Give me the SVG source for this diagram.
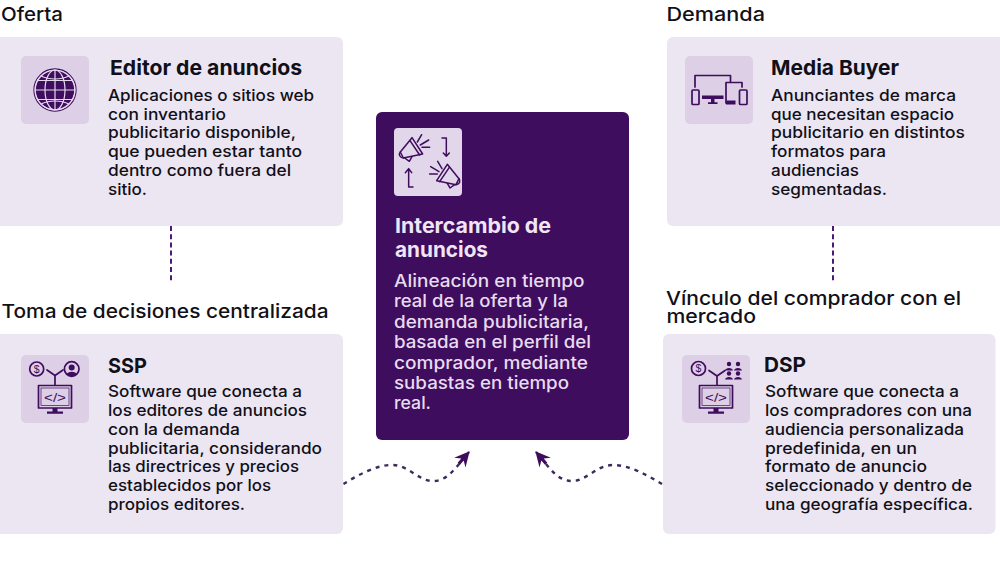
<svg xmlns="http://www.w3.org/2000/svg" width="1000" height="563" viewBox="0 0 1000 563">
<style>
text{font-family:"Inter","Noto Sans","Liberation Sans",sans-serif;fill:#111018}
.h{font-size:19px;font-weight:500}
.t{font-size:20.500px;font-weight:700}
.b{font-size:16px;font-weight:500}
.tc{font-size:20.500px;font-weight:700;fill:#efe6f5}
.bc{font-size:17px;font-weight:500;fill:#e8dcf0}
.card{fill:#ece6f3}
.ib{fill:#ddd0e6}
.ln{fill:none;stroke:#3f0d5e;stroke-width:1.700;stroke-linecap:round;stroke-linejoin:round}
.th{fill:none;stroke:#3f0d5e;stroke-width:.7}
.df{fill:#3f0d5e}
.code{font-family:"Liberation Sans",sans-serif;font-size:13px;fill:#3f0d5e}
.dollar{font-family:"Liberation Sans",sans-serif;font-size:10.500px;fill:#3f0d5e;text-anchor:middle}
.dv{fill:none;stroke:#4a1a78;stroke-width:2;stroke-dasharray:5 3.200}
.dc{fill:none;stroke:#3b2a5c;stroke-width:2.400;stroke-dasharray:4 5}
</style>
<defs>
<marker id="head" viewBox="-16 -9 18 18" markerWidth="18" markerHeight="18" markerUnits="userSpaceOnUse" refX="0" refY="0" orient="auto">
<path d="M1 0L-14 -7.500L-10 -1.600L-15.500 -1.600L-15.500 1.600L-10 1.600L-14 7.500Z" fill="#3f0d5e"/>
</marker>
<g id="mega" fill="none" stroke="#3f0d5e" stroke-width="4.500" stroke-linecap="round" stroke-linejoin="round">
<path d="M37 90L72 47L104 96L46 108Z"/>
<path d="M66 56L95 99"/>
<path d="M37 90C31 97 35 107 46 108"/>
<path d="M50 108L64 118L72 104"/>
<path d="M88 60L101 38M97 69L122 54M102 76L125 76"/>
</g>
</defs>

<g id="connectors">
<path class="dv" d="M171 226V282"/>
<path class="dv" d="M833 226V282"/>
<path class="dc" d="M343.500 484C358 475 376 465 392 465C409 465 418 481 433 481C448 481 456 467 469 452" marker-end="url(#head)"/>
<path class="dc" d="M662 484C647 475 629 465 613 465C596 465 587 481 572 481C557 481 549 467 536 452" marker-end="url(#head)"/>
</g>

<g id="oferta">
<text class="h" x="1" y="21" textLength="62" lengthAdjust="spacingAndGlyphs">Oferta</text>
</g>
<g id="editor-de-anuncios">
<rect class="card" x="-6" y="37" width="349" height="189" rx="6"/>
<rect class="ib" x="21" y="56" width="68" height="68" rx="5"/>
<circle cx="55" cy="90" r="21" fill="none" stroke="#3f0d5e" stroke-width="1.300"/>
<circle cx="55" cy="90" r="19.200" fill="#3f0d5e"/>
<g fill="none" stroke="#e5d9ee" stroke-width="1.200">
<circle cx="55" cy="90" r="20"/>
<ellipse cx="55" cy="90" rx="10" ry="20"/>
<path d="M55 70V110M35 90H75M37.500 80.500H72.500M37.500 99.500H72.500"/>
<path d="M41 76C49 80 61 80 69 76M41 104C49 100 61 100 69 104"/>
</g>
<text class="t" x="110" y="75" textLength="192" lengthAdjust="spacingAndGlyphs">Editor de anuncios</text>
<text class="b" x="108" y="100.700" textLength="206" lengthAdjust="spacingAndGlyphs">Aplicaciones o sitios web</text>
<text class="b" x="108" y="119.500" textLength="118" lengthAdjust="spacingAndGlyphs">con inventario</text>
<text class="b" x="108" y="138.200" textLength="188" lengthAdjust="spacingAndGlyphs">publicitario disponible,</text>
<text class="b" x="108" y="157" textLength="194" lengthAdjust="spacingAndGlyphs">que pueden estar tanto</text>
<text class="b" x="108" y="175.800" textLength="183" lengthAdjust="spacingAndGlyphs">dentro como fuera del</text>
<text class="b" x="108" y="194.500" textLength="39" lengthAdjust="spacingAndGlyphs">sitio.</text>
</g>

<g id="toma-de-decisiones">
<text class="h" x="1.500" y="318" textLength="327" lengthAdjust="spacingAndGlyphs">Toma de decisiones centralizada</text>
</g>
<g id="ssp">
<rect class="card" x="-6" y="334" width="349" height="200" rx="6"/>
<rect class="ib" x="21" y="355" width="68" height="68" rx="5"/>
<circle class="ln" cx="36.700" cy="369" r="7"/>
<text class="dollar" x="36.700" y="372.800">$</text>
<circle class="ln" cx="71.700" cy="369" r="7.300"/>
<circle class="df" cx="71.700" cy="367.500" r="3"/>
<path class="df" d="M66.500 374.500C67.500 370.800 76 370.800 77 374.500C74 376.500 69.500 376.500 66.500 374.500Z"/>
<path class="ln" d="M47 370L55 375.500L63 370M55 375.500V385"/>
<rect class="ln" x="38.500" y="385.500" width="33" height="22.500"/>
<rect class="th" x="41" y="388" width="28" height="17.500"/>
<text class="code" x="44" y="401.500" textLength="22" lengthAdjust="spacingAndGlyphs">&lt;/&gt;</text>
<path class="df" d="M52.500 408h5v4h-5zM47 411.500h16v2.300h-16z"/>
<text class="t" x="108" y="372.700" textLength="39" lengthAdjust="spacingAndGlyphs">SSP</text>
<text class="b" x="108" y="397.300" textLength="194" lengthAdjust="spacingAndGlyphs">Software que conecta a</text>
<text class="b" x="108" y="416" textLength="199" lengthAdjust="spacingAndGlyphs">los editores de anuncios</text>
<text class="b" x="108" y="434.800" textLength="132" lengthAdjust="spacingAndGlyphs">con la demanda</text>
<text class="b" x="108" y="453.600" textLength="214" lengthAdjust="spacingAndGlyphs">publicitaria, considerando</text>
<text class="b" x="108" y="472.300" textLength="191" lengthAdjust="spacingAndGlyphs">las directrices y precios</text>
<text class="b" x="108" y="491" textLength="163" lengthAdjust="spacingAndGlyphs">establecidos por los</text>
<text class="b" x="108" y="509.800" textLength="137" lengthAdjust="spacingAndGlyphs">propios editores.</text>
</g>

<g id="intercambio-de-anuncios">
<rect x="376" y="112" width="253" height="328" rx="6" fill="#3f0d5e"/>
<rect x="394" y="128" width="68" height="68" rx="4" fill="#e2d6ea"/>
<g transform="translate(388 122) scale(.3333)">
<use href="#mega"/>
<use href="#mega" transform="translate(250 80) scale(-1 1)"/>
<path d="M162 48H175V103M166 93L175 103L184 93M75 195H62V140M52 152L62 140L71 152" fill="none" stroke="#3f0d5e" stroke-width="4.500" stroke-linecap="round" stroke-linejoin="round"/>
</g>
<text class="tc" x="395" y="233" textLength="156" lengthAdjust="spacingAndGlyphs">Intercambio de</text>
<text class="tc" x="395" y="256.700" textLength="93" lengthAdjust="spacingAndGlyphs">anuncios</text>
<text class="bc" x="394" y="287" textLength="190.500" lengthAdjust="spacingAndGlyphs">Alineación en tiempo</text>
<text class="bc" x="394" y="307.400" textLength="174" lengthAdjust="spacingAndGlyphs">real de la oferta y la</text>
<text class="bc" x="394" y="327.700" textLength="195" lengthAdjust="spacingAndGlyphs">demanda publicitaria,</text>
<text class="bc" x="394" y="348.200" textLength="197" lengthAdjust="spacingAndGlyphs">basada en el perfil del</text>
<text class="bc" x="394" y="368.600" textLength="194" lengthAdjust="spacingAndGlyphs">comprador, mediante</text>
<text class="bc" x="394" y="389" textLength="175" lengthAdjust="spacingAndGlyphs">subastas en tiempo</text>
<text class="bc" x="394" y="409" textLength="37" lengthAdjust="spacingAndGlyphs">real.</text>
</g>

<g id="demanda">
<text class="h" x="666.500" y="21" textLength="98.500" lengthAdjust="spacingAndGlyphs">Demanda</text>
</g>
<g id="media-buyer">
<rect class="card" x="667" y="37" width="345" height="189" rx="6"/>
<rect class="ib" x="685" y="56" width="68" height="68" rx="5"/>
<path class="ln" d="M695 87V75.500H730.500V81.500"/>
<path class="ln" d="M726 103V82.500H742V87"/>
<path class="df" d="M702 95.500h21.500v3.500h-21.500zM711 99h3.500v3.500h-3.500zM708 102.300h9.500v1.700h-9.500zM726 100.500h9.500v4h-9.500z"/>
<rect class="ln" x="692" y="90" width="7" height="14.500" rx="1"/>
<rect class="ln" x="739.500" y="90" width="7.500" height="14.500" rx="1"/>
<text class="t" x="771" y="75" textLength="128" lengthAdjust="spacingAndGlyphs">Media Buyer</text>
<text class="b" x="771" y="100.700" textLength="185" lengthAdjust="spacingAndGlyphs">Anunciantes de marca</text>
<text class="b" x="771" y="119.500" textLength="183" lengthAdjust="spacingAndGlyphs">que necesitan espacio</text>
<text class="b" x="771" y="138.200" textLength="194" lengthAdjust="spacingAndGlyphs">publicitario en distintos</text>
<text class="b" x="771" y="157" textLength="115" lengthAdjust="spacingAndGlyphs">formatos para</text>
<text class="b" x="771" y="175.800" textLength="88" lengthAdjust="spacingAndGlyphs">audiencias</text>
<text class="b" x="771" y="194.500" textLength="116" lengthAdjust="spacingAndGlyphs">segmentadas.</text>
</g>

<g id="vinculo">
<text class="h" x="666" y="304.500" textLength="295" lengthAdjust="spacingAndGlyphs">Vínculo del comprador con el</text>
<text class="h" x="666.500" y="322.700" textLength="89.500" lengthAdjust="spacingAndGlyphs">mercado</text>
</g>
<g id="dsp">
<rect class="card" x="663" y="334" width="332.500" height="200" rx="6"/>
<rect class="ib" x="682" y="355" width="68" height="68" rx="5"/>
<circle class="ln" cx="698.500" cy="368.500" r="7"/>
<text class="dollar" x="698.500" y="372.300">$</text>
<g class="df">
<circle cx="729" cy="364" r="2.200"/><circle cx="738" cy="364" r="2.200"/>
<circle cx="729" cy="373.500" r="2.200"/><circle cx="738" cy="373.500" r="2.200"/>
<path d="M725 370.500c.5-3.500 7.500-3.500 8 0zM734 370.500c.5-3.500 7.500-3.500 8 0zM725 379.500c.5-3.500 7.500-3.500 8 0zM734 379.500c.5-3.500 7.500-3.500 8 0z"/>
</g>
<path class="ln" d="M709 370.500L717 376L725 370.500M717 376V385"/>
<rect class="ln" x="699.500" y="385.500" width="33" height="22.500"/>
<rect class="th" x="702" y="388" width="28" height="17.500"/>
<text class="code" x="705" y="401.500" textLength="22" lengthAdjust="spacingAndGlyphs">&lt;/&gt;</text>
<path class="df" d="M713.500 408h5v4h-5zM708 411.500h16v2.300h-16z"/>
<text class="t" x="764" y="371.700" textLength="42" lengthAdjust="spacingAndGlyphs">DSP</text>
<text class="b" x="765" y="397.300" textLength="194" lengthAdjust="spacingAndGlyphs">Software que conecta a</text>
<text class="b" x="765" y="416" textLength="207" lengthAdjust="spacingAndGlyphs">los compradores con una</text>
<text class="b" x="765" y="434.800" textLength="199" lengthAdjust="spacingAndGlyphs">audiencia personalizada</text>
<text class="b" x="765" y="453.600" textLength="152" lengthAdjust="spacingAndGlyphs">predefinida, en un</text>
<text class="b" x="765" y="472.300" textLength="162" lengthAdjust="spacingAndGlyphs">formato de anuncio</text>
<text class="b" x="765" y="491" textLength="207" lengthAdjust="spacingAndGlyphs">seleccionado y dentro de</text>
<text class="b" x="765" y="509.800" textLength="208" lengthAdjust="spacingAndGlyphs">una geografía específica.</text>
</g>
</svg>
